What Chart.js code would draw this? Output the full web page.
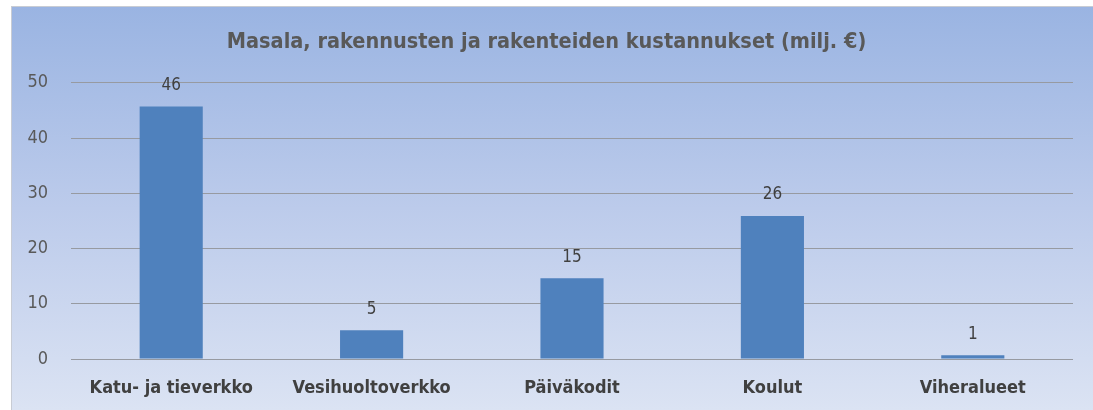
<!DOCTYPE html>
<html lang="fi">
<head>
<meta charset="UTF-8">
<title>Masala - kustannukset</title>
<script src="https://cdn.jsdelivr.net/npm/chart.js"></script>
<style>
    html, body { margin: 0; padding: 0; background: #ffffff; }
    canvas { display: block; }
</style>
</head>
<body>
<canvas id="costChart" width="1093" height="410"></canvas>
<script>
    // Data (milj. €)
    const categories = ['Katu- ja tieverkko', 'Vesihuoltoverkko', 'Päiväkodit', 'Koulut', 'Viheralueet'];
    const costs = [45.7, 5.2, 14.6, 25.9, 0.7];
    const yTicks = [0, 10, 20, 30, 40, 50];

    const font = "'Liberation Sans Narrow', 'DejaVu Sans Condensed', Arial, sans-serif";

    // gradient panel behind the chart, with thin grey edge top/left
    const panelBg = {
        id: 'panelBg',
        beforeDraw(chart) {
            const c = chart.ctx;
            const g = c.createLinearGradient(0, 7, 0, 410);
            g.addColorStop(0, '#9ab4e2');
            g.addColorStop(0.5, '#bccbeb');
            g.addColorStop(1, '#dbe3f3');
            c.save();
            c.fillStyle = '#c8ccd4';
            c.fillRect(11, 6, 1082, 404);
            c.fillStyle = g;
            c.fillRect(12, 7, 1081, 403);
            c.restore();
        }
    };

    // value labels above each bar
    const barLabels = {
        id: 'barLabels',
        afterDatasetsDraw(chart) {
            const c = chart.ctx;
            const meta = chart.getDatasetMeta(0);
            c.save();
            c.font = '17px ' + font;
            c.fillStyle = '#404040';
            c.textAlign = 'center';
            c.textBaseline = 'middle';
            meta.data.forEach((bar, i) => {
                c.fillText(String(Math.round(costs[i])), bar.x, bar.y - 21);
            });
            c.restore();
        }
    };

    new Chart(document.getElementById('costChart'), {
        type: 'bar',
        data: {
            labels: categories,
            datasets: [{
                data: costs,
                backgroundColor: '#4f81bd',
                borderWidth: 0,
                barPercentage: 0.315,
                categoryPercentage: 1
            }]
        },
        options: {
            responsive: false,
            animation: false,
            layout: { padding: { left: 20, right: 20, top: 0, bottom: 11 } },
            plugins: {
                legend: { display: false },
                tooltip: { enabled: false },
                title: {
                    display: true,
                    text: 'Masala, rakennusten ja rakenteiden kustannukset (milj. €)',
                    color: '#595959',
                    font: { family: font, size: 21.5, weight: 'bold' },
                    padding: { top: 30, bottom: 27 }
                }
            },
            scales: {
                x: {
                    afterFit(scale) { scale.height = 40; },
                    grid: { display: false, drawTicks: false },
                    border: { display: false },
                    ticks: {
                        color: '#404040',
                        padding: 19,
                        maxRotation: 0,
                        font: { family: font, size: 18, weight: 'bold' }
                    }
                },
                y: {
                    min: 0,
                    max: 50,
                    afterFit(scale) { scale.width = 51; },
                    afterBuildTicks(scale) { scale.ticks = yTicks.map(v => ({ value: v })); },
                    grid: { color: '#979aa1', lineWidth: 1, drawTicks: false },
                    border: { display: false },
                    ticks: {
                        color: '#595959',
                        padding: 23,
                        font: { family: font, size: 18 }
                    }
                }
            }
        },
        plugins: [panelBg, barLabels]
    });
</script>
</body>
</html>
